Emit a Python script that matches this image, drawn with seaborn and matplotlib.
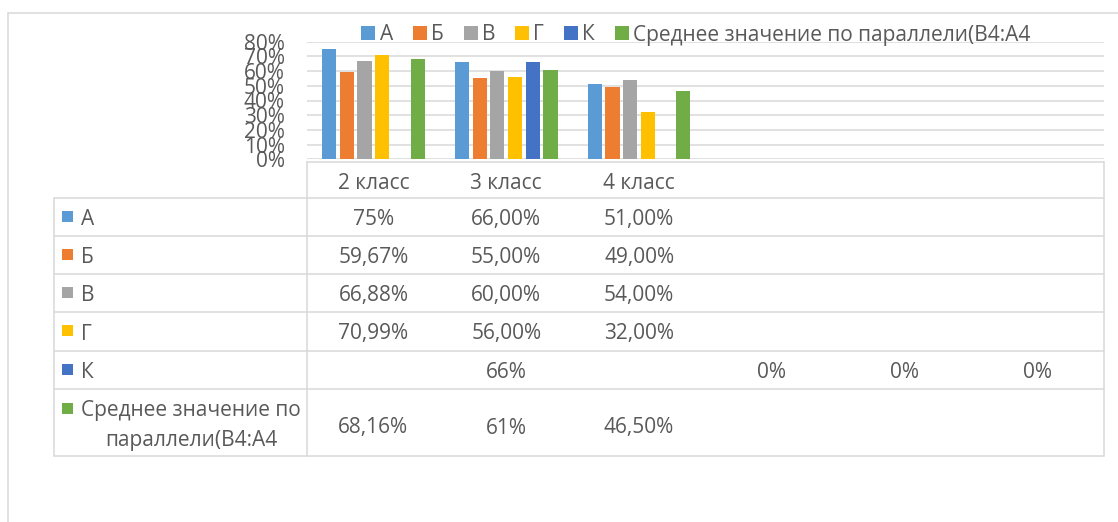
import matplotlib
matplotlib.use("Agg")
import matplotlib.pyplot as plt
import matplotlib.ticker as mticker
import matplotlib.transforms as mtransforms
from matplotlib.lines import Line2D
from matplotlib.patches import Rectangle
import seaborn as sns
import numpy as np
import pandas as pd

nan = np.nan

# chart columns (only the first three carry a name)
classes = ["2 класс", "3 класс", "4 класс", "", "", ""]
series = ["А", "Б", "В", "Г", "К", "Среднее значение по параллели(В4:А4"]
row_labels = ["А", "Б", "В", "Г", "К", "Среднее значение по\nпараллели(В4:А4"]

# bar values
val_a = [0.75, 0.66, 0.51, nan, nan, nan]
val_b = [0.5967, 0.55, 0.49, nan, nan, nan]
val_v = [0.6688, 0.60, 0.54, nan, nan, nan]
val_g = [0.7099, 0.56, 0.32, nan, nan, nan]
val_k = [nan, 0.66, nan, 0.0, 0.0, 0.0]
val_avg = [0.6816, 0.61, 0.465, nan, nan, nan]

# how the values are printed in the data table
txt_a = ["75%", "66,00%", "51,00%", "", "", ""]
txt_b = ["59,67%", "55,00%", "49,00%", "", "", ""]
txt_v = ["66,88%", "60,00%", "54,00%", "", "", ""]
txt_g = ["70,99%", "56,00%", "32,00%", "", "", ""]
txt_k = ["", "66%", "", "0%", "0%", "0%"]
txt_avg = ["68,16%", "61%", "46,50%", "", "", ""]

colors = ["#5B9BD5", "#ED7D31", "#A5A5A5", "#FFC000", "#4472C4", "#70AD47"]

W, H = 1118, 522
TXT = "#595959"
LINE = "#D9D9D9"
FS = 15

sns.set_theme(style="white")
plt.rcParams["font.family"] = ["Open Sans", "DejaVu Sans"]


def fx(x):
    return x / W


def fy(y):
    return 1 - y / H


# long table for seaborn
col_ids = [f"c{i}" for i in range(len(classes))]
values = [val_a, val_b, val_v, val_g, val_k, val_avg]
rows = []
for name, vals in zip(series, values):
    for cid, v in zip(col_ids, vals):
        rows.append({"col": cid, "series": name, "value": v})
df = pd.DataFrame(rows)

fig = plt.figure(figsize=(W / 100, H / 100), dpi=100)
ax = fig.add_axes([fx(307), fy(159.3), fx(1104) - fx(307), fy(41.7) - fy(159.3)])

sns.barplot(data=df, x="col", y="value", hue="series", order=col_ids, hue_order=series,
            palette=colors, saturation=1, width=0.8, gap=0.2, errorbar=None, linewidth=0, ax=ax)

ax.set_xlim(-0.5, len(classes) - 0.5)
ax.set_ylim(0, 0.8)
ax.set_yticks(np.arange(0, 0.81, 0.1))
ax.yaxis.set_major_formatter(mticker.PercentFormatter(1.0, decimals=0))
ax.tick_params(axis="y", length=0, pad=16, labelsize=FS, labelcolor=TXT)
ax.set_xticks([])
ax.set_xlabel("")
ax.set_ylabel("")
ax.grid(axis="y", color=LINE, linewidth=1.1)
ax.set_axisbelow(True)
for s in ax.spines.values():
    s.set_visible(False)

# legend on top
handles, labels = ax.get_legend_handles_labels()
ax.get_legend().remove()
fig.legend(handles, labels, loc="center", bbox_to_anchor=(fx(696), fy(35)), ncol=6,
           frameon=False, fontsize=FS, labelcolor=TXT, handlelength=0.68, handleheight=0.68,
           handletextpad=0.2, columnspacing=0.95, borderaxespad=0, borderpad=0)

# outer chart frame (only the left and top edges are in view)
fig.add_artist(Line2D([fx(8), fx(8)], [fy(13), 0], color=LINE, linewidth=1.1))
fig.add_artist(Line2D([fx(8), 1], [fy(13), fy(13)], color=LINE, linewidth=1.1))

# data table grid
fig.add_artist(Line2D([fx(307), fx(1104)], [fy(162), fy(162)], color=LINE, linewidth=1.1))
row_lines = [198, 236, 274, 312, 351, 389, 456]
for y in row_lines:
    fig.add_artist(Line2D([fx(54), fx(1104)], [fy(y), fy(y)], color=LINE, linewidth=1.1))
fig.add_artist(Line2D([fx(307), fx(307)], [fy(162), fy(456)], color=LINE, linewidth=1.1))
fig.add_artist(Line2D([fx(1104), fx(1104)], [fy(162), fy(456)], color=LINE, linewidth=1.1))
fig.add_artist(Line2D([fx(54), fx(54)], [fy(198), fy(456)], color=LINE, linewidth=1.1))

# table text: x follows the bar axis, y in figure space
trans = mtransforms.blended_transform_factory(ax.transData, fig.transFigure)
for i, c in enumerate(classes):
    fig.text(i, fy(181), c, transform=trans, ha="center", va="center_baseline",
             fontsize=FS, color=TXT)

texts = [txt_a, txt_b, txt_v, txt_g, txt_k, txt_avg]
row_centers = [(row_lines[k] + row_lines[k + 1]) / 2 for k in range(len(row_lines) - 1)]
for k, (lab, tx, colr) in enumerate(zip(row_labels, texts, colors)):
    yc = row_centers[k]
    if "\n" in lab:
        yc += 3
    for i, t in enumerate(tx):
        if t:
            fig.text(i, fy(yc), t, transform=trans, ha="center", va="center_baseline",
                     fontsize=FS, color=TXT)
    if "\n" in lab:
        fig.add_artist(Rectangle((fx(62), fy(yc - 12)), fx(11), 11 / H, color=colr, linewidth=0))
        fig.text(fx(191), fy(yc), lab, ha="center", va="center", multialignment="center",
                 fontsize=FS, color=TXT, linespacing=1.55)
    else:
        fig.add_artist(Rectangle((fx(62), fy(yc + 4.5)), fx(11), 11 / H, color=colr, linewidth=0))
        fig.text(fx(81), fy(yc), lab, ha="left", va="center_baseline", fontsize=FS, color=TXT)

fig.savefig("out.png", dpi=100)
